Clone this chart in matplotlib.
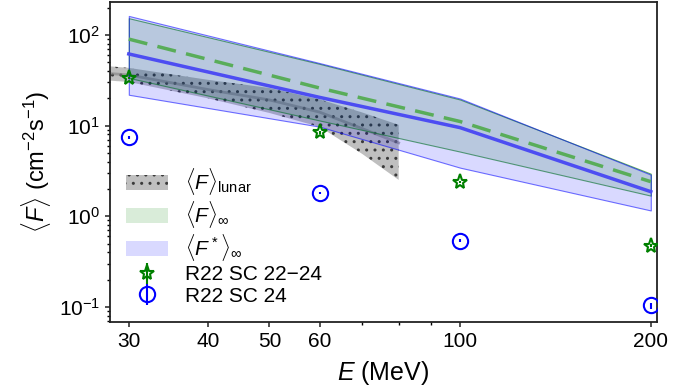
import matplotlib
matplotlib.use('Agg')
import matplotlib.pyplot as plt
from matplotlib.patches import Patch
import numpy as np

plt.rcParams['font.family'] = ['Liberation Sans', 'DejaVu Sans']
plt.rcParams['mathtext.fontset'] = 'custom'
plt.rcParams['mathtext.rm'] = 'Liberation Sans'
plt.rcParams['mathtext.it'] = 'Liberation Sans:italic'
plt.rcParams['hatch.color'] = '#3a3a3a'
plt.rcParams['hatch.linewidth'] = 1.0

# model energies (MeV)
energy = [30, 60, 100, 200]

# <F>_inf band and median
f_inf_low = [33.6, 11.4, 5.17, 1.69]
f_inf_high = [153, 48, 19.4, 2.95]
f_inf_mid = [90, 26, 11.1, 2.41]

# <F*>_inf band and median
fstar_low = [21.9, 9.75, 3.44, 1.16]
fstar_high = [162, 49, 19.9, 2.88]
fstar_mid = [61.7, 20.5, 9.5, 1.87]

# lunar band
lunar_energy = [26, 30, 40, 50, 60, 70, 80]
lunar_low = [32.5, 30.3, 20.0, 13.8, 9.7, 4.9, 2.52]
lunar_high = [47.0, 43.3, 32.0, 26.0, 19.5, 14.0, 10.2]
lunar_mid = [39.0, 36.2, 25.0, 19.2, 14.1, 9.3, 6.45]

# R22 measurements
sc2224 = [33.6, 8.4, 2.4, 0.475]
sc2224_err = [0.8, 0.25, 0.08, 0.02]
sc24 = [7.4, 1.82, 0.54, 0.104]
sc24_err = [0.2, 0.05, 0.02, 0.008]

lunar_face = (0.5, 0.5, 0.5, 0.5)
inf_face = (0, 0.5, 0, 0.15)
star_face = (0, 0, 1, 0.15)

fig = plt.figure(figsize=(6.95, 3.91), dpi=100)
ax = fig.add_axes([0.158, 0.176, 0.787, 0.819])

ax.fill_between(lunar_energy, lunar_low, lunar_high, facecolor=lunar_face,
                edgecolor='none', hatch='..', zorder=1)
ax.plot(lunar_energy, lunar_mid, color='gray', alpha=0.6, lw=2, zorder=1)

ax.fill_between(energy, f_inf_low, f_inf_high, facecolor=inf_face,
                edgecolor=(0, 0.5, 0, 0.6), lw=0.8, zorder=2)
ax.fill_between(energy, fstar_low, fstar_high, facecolor=star_face,
                edgecolor=(0, 0, 1, 0.55), lw=0.8, zorder=2)
ax.plot(energy, fstar_mid, color=(0.3, 0.3, 0.95), lw=2.5, zorder=3)
ax.plot(energy, f_inf_mid, color=(0.35, 0.68, 0.35), lw=2.5, ls=(0, (5.5, 3)), zorder=3)

h_sc2224 = ax.errorbar(energy, sc2224, yerr=sc2224_err, fmt='*', ms=11, mfc='none', mec='green',
                       mew=1.5, ecolor='green', elinewidth=1.5, zorder=4)
h_sc24 = ax.errorbar(energy, sc24, yerr=sc24_err, fmt='o', ms=11, mfc='none', mec='blue',
                     mew=1.5, ecolor='blue', elinewidth=1.5, zorder=4)

ax.set_xscale('log')
ax.set_yscale('log')
ax.set_xlim(28.0, 204.4)
ax.set_ylim(0.068, 231)
ax.set_xticks([30, 40, 50, 60, 100, 200])
ax.set_xticklabels(['30', '40', '50', '60', '100', '200'])
ax.set_xticks([70, 80, 90], minor=True)
ax.xaxis.set_minor_formatter(matplotlib.ticker.NullFormatter())
ax.tick_params(labelsize=15, width=1.2, color='#333333')
ax.tick_params(which='minor', width=1.0)
for s in ax.spines.values():
    s.set_linewidth(1.3)
    s.set_color('#222222')

ax.set_xlabel(r'$E$ (MeV)', fontsize=18, labelpad=6)
ax.set_ylabel(r'$\langle F\rangle$ (cm$^{-2}$s$^{-1}$)', fontsize=17, labelpad=4)

handles = [
    Patch(facecolor=lunar_face, hatch='..'),
    Patch(facecolor=inf_face, edgecolor='none'),
    Patch(facecolor=star_face, edgecolor='none'),
    h_sc2224,
    h_sc24,
]
labels = [
    r'$\langle F\rangle_{\rm lunar}$',
    r'$\langle F\rangle_\infty$',
    r'$\langle F^*\rangle_\infty$',
    'R22 SC 22\u221224',
    'R22 SC 24',
]
ax.legend(handles, labels, loc='lower left', bbox_to_anchor=(0.0, 0.0), frameon=False, fontsize=15,
          handlelength=2.0, handletextpad=0.8, labelspacing=0.1, borderaxespad=0.4)

fig.savefig('out.png', dpi=100)
